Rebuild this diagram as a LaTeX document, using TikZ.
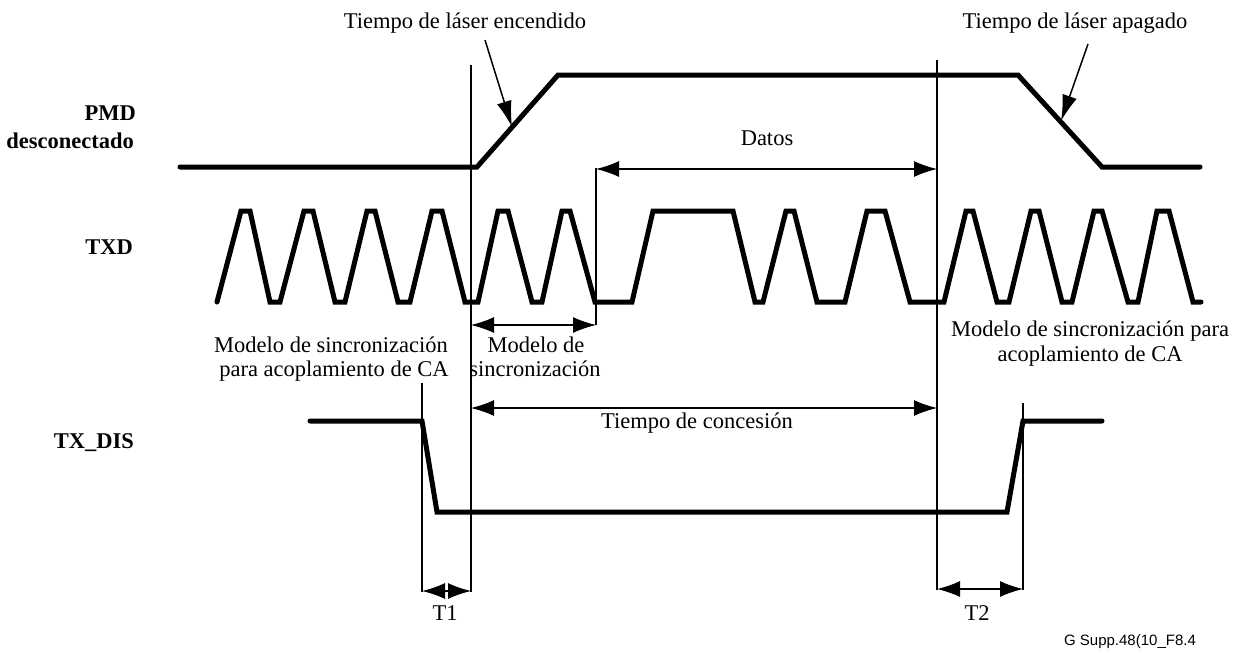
\documentclass[tikz,border=0pt]{standalone}
\usepackage{fontspec}
\setmainfont{Liberation Serif}
\newfontfamily\gsans{Liberation Sans}
\usetikzlibrary{arrows.meta}
\begin{document}
\begin{tikzpicture}[x=1pt,y=-1pt,
  wave/.style={line width=5pt,line cap=round,line join=miter},
  thinline/.style={line width=1.3pt},
  dimarrow/.style={line width=1.3pt,{Latex[length=23pt,width=16pt]}-{Latex[length=23pt,width=16pt]}},
  ptr/.style={line width=1.5pt,-{Latex[length=26pt,width=15pt]}},
  lbl/.style={font=\fontsize{22.5}{25}\selectfont,inner sep=0pt,anchor=base},
  sig/.style={font=\bfseries\fontsize{22.5}{28}\selectfont,inner sep=0pt,anchor=base east},
]
\useasboundingbox (0,0) rectangle (1239,649);

% signal names
\node[sig] (pmd) at (136,120) {PMD};
\node[sig] (desc) at (134,148) {desconectado};
\node[sig] (txd) at (133,254) {TXD};
\node[sig] (txdis) at (134,448) {TX\_DIS};

% waveforms
\draw[wave] (180,167) -- (477,167) -- (558,75) -- (1018,75) -- (1102,167) -- (1200,167);
\draw[wave] (217,302) -- (241,211) -- (250,211) -- (270,302) -- (280,302)
  -- (304,211) -- (313,211) -- (335,302) -- (345,302)
  -- (367,211) -- (375,211) -- (398,302) -- (410,302)
  -- (432,211) -- (442,211) -- (465,302) -- (478,302)
  -- (498,211) -- (508,211) -- (532,302) -- (542,302)
  -- (562,211) -- (570,211) -- (595,302) -- (632,302)
  -- (653,211) -- (733,211) -- (755,302) -- (763,302)
  -- (786,211) -- (794,211) -- (817,302) -- (845,302)
  -- (867,211) -- (885,211) -- (910,302) -- (944,302)
  -- (966,211) -- (973,211) -- (997,302) -- (1009,302)
  -- (1031,211) -- (1039,211) -- (1062,302) -- (1072,302)
  -- (1094,211) -- (1102,211) -- (1128,302) -- (1138,302)
  -- (1157,211) -- (1169,211) -- (1193,302) -- (1201,302);
\draw[wave] (310,421) -- (422,421) -- (437,512) -- (1007,512) -- (1023,421) -- (1102,421);

% reference coordinates
\coordinate (v1t) at (471,65);   \coordinate (v1b) at (471,592);
\coordinate (v2t) at (937,60);   \coordinate (v2b) at (937,590);
\coordinate (v3t) at (596,168);  \coordinate (v3b) at (596,325);
\coordinate (v4t) at (422,383);  \coordinate (v4b) at (422,592);
\coordinate (v5t) at (1023,403); \coordinate (v5b) at (1023,590);

\draw[thinline] (v1t) -- (v1b);
\draw[thinline] (v2t) -- (v2b);
\draw[thinline] (v3t) -- (v3b);
\draw[thinline] (v4t) -- (v4b);
\draw[thinline] (v5t) -- (v5b);

% dimension arrows
\coordinate (da) at (596,169); \coordinate (db) at (937,169);
\coordinate (sa) at (471,325); \coordinate (sb) at (596,325);
\coordinate (ca) at (471,408); \coordinate (cb) at (937,408);
\coordinate (t1a) at (422,591); \coordinate (t1b) at (471,591);
\coordinate (t2a) at (937,589); \coordinate (t2b) at (1023,589);
\draw[dimarrow] (da) -- (db);
\draw[dimarrow] (sa) -- (sb);
\draw[dimarrow] (ca) -- (cb);
\draw[dimarrow] (t1a) -- (t1b);
\draw[dimarrow] (t2a) -- (t2b);

% labels
\node[lbl] (enc) at (465,28) {Tiempo de láser encendido};
\node[lbl] (apa) at (1075,28) {Tiempo de láser apagado};
\coordinate (encs) at (485,40);  \coordinate (enct) at (512,127);
\coordinate (apas) at (1088,44); \coordinate (apat) at (1061,121);
\draw[ptr] (encs) -- (enct);
\draw[ptr] (apas) -- (apat);

\node[lbl] (datos) at (767,145) {Datos};
\node[lbl] (ml1) at (331,352) {Modelo de sincronización};
\node[lbl] (ml2) at (334,376) {para acoplamiento de CA};
\node[lbl] (mm1) at (536,352) {Modelo de};
\node[lbl] (mm2) at (535,376) {sincronización};
\node[lbl] (mr1) at (1090,336) {Modelo de sincronización para};
\node[lbl] (mr2) at (1090,361) {acoplamiento de CA};
\node[lbl] (conc) at (697,428) {Tiempo de concesión};
\node[lbl] (t1) at (445,620) {T1};
\node[lbl] (t2) at (977,620) {T2};
\node[inner sep=0pt,anchor=base,font=\gsans\fontsize{15}{17}\selectfont] (code) at (1130,645) {G Supp.48(10\_F8.4};
\end{tikzpicture}
\end{document}
